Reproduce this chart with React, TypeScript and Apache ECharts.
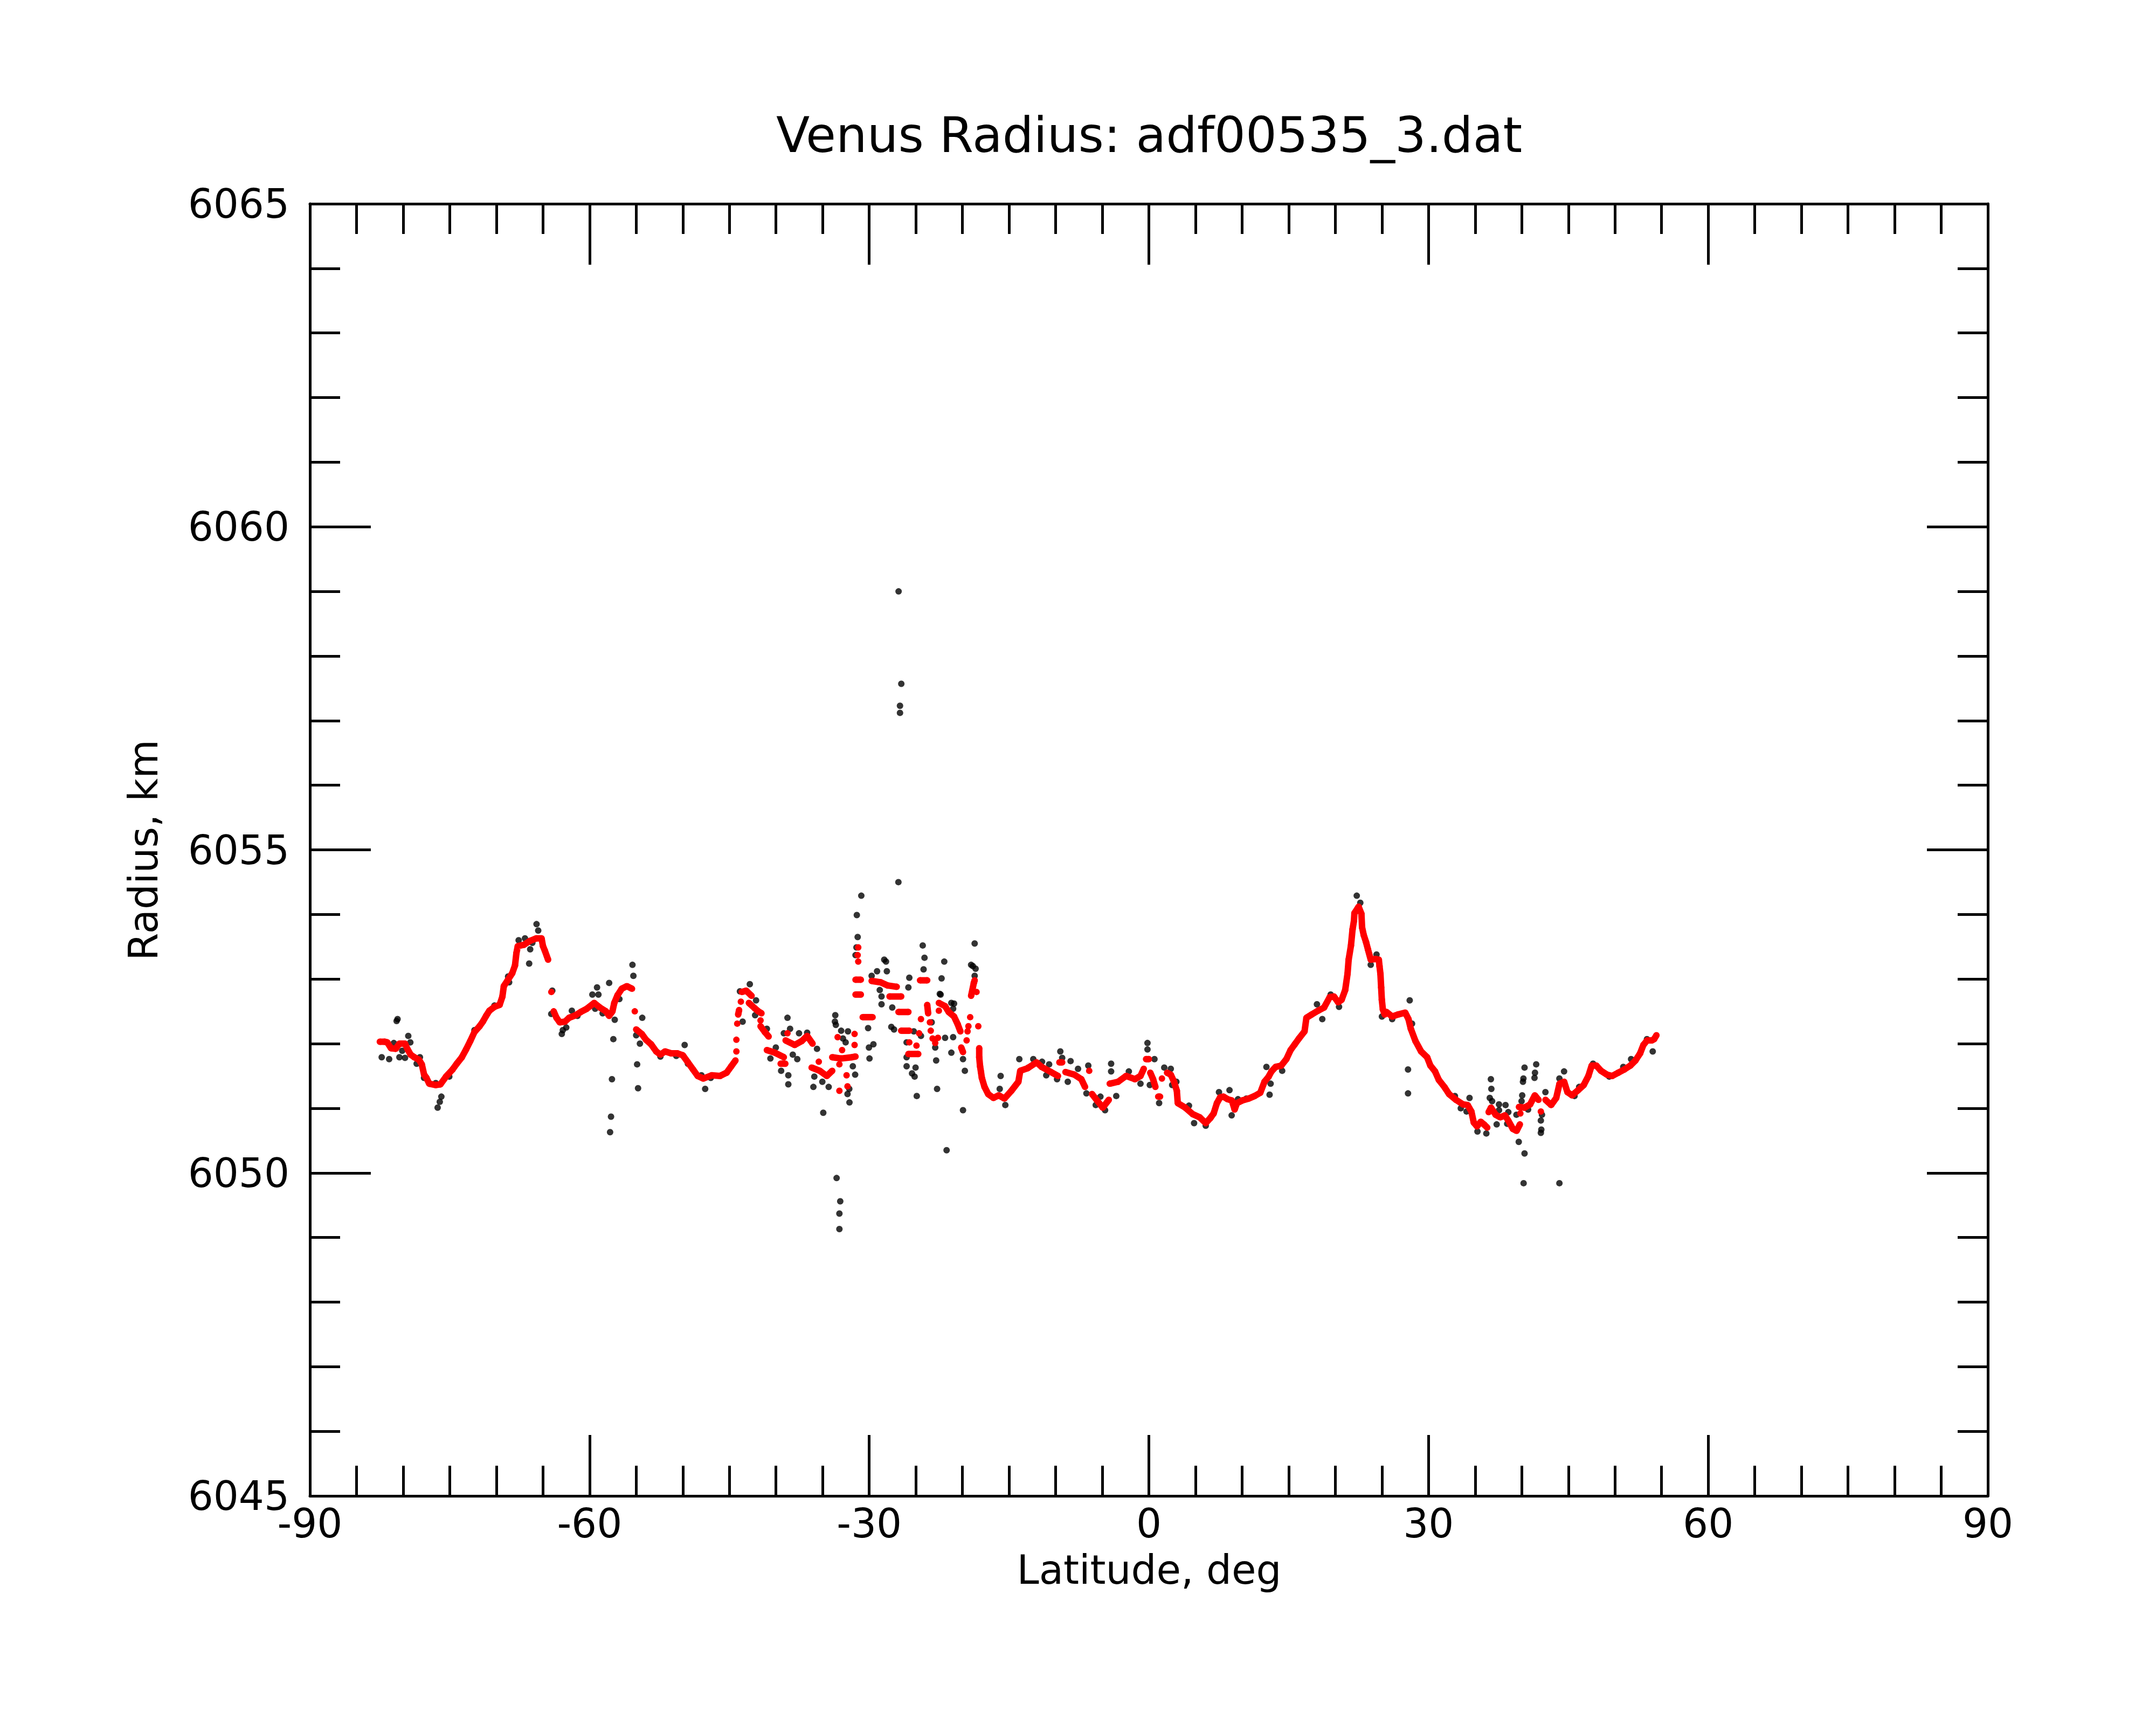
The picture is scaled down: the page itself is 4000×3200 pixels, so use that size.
import React, { useEffect, useRef } from "react";
import * as echarts from "echarts";

const chartTitle = "Venus Radius: adf00535_3.dat";
const xAxisTitle = "Latitude, deg";
const yAxisTitle = "Radius, km";
const latRange = [-90, 90];
const latStep = 30;
const radiusRange = [6045, 6065];
const radiusStep = 5;

// raw (black) measurements: [latitude, radius]
const rawPoints: [number, number][] = [
  [-80.6, 6052.38], [-80.7, 6052.35], [-79.45, 6052.12], [-79.23, 6052.02], [-82.3, 6051.79],
  [-81.5, 6051.76], [-80.4, 6051.79], [-79.8, 6051.78], [-80.1, 6051.89], [-81.0, 6052.01],
  [-78.55, 6051.69], [-78.2, 6051.79], [-77.76, 6051.47], [-76.5, 6051.39], [-75.9, 6051.18],
  [-76.07, 6051.1], [-76.3, 6051.01], [-75.05, 6051.49], [-72.35, 6052.21], [-70.2, 6052.59],
  [-68.63, 6052.95], [-68.74, 6053.04], [-67.61, 6053.6], [-66.93, 6053.63], [-66.37, 6053.46],
  [-66.48, 6053.24], [-66.14, 6053.56], [-65.69, 6053.85], [-65.51, 6053.75], [-64.0, 6052.82],
  [-64.11, 6052.46], [-62.98, 6052.15], [-62.87, 6052.21],
  [-62.5, 6052.25], [-61.9, 6052.51], [-61.3, 6052.43], [-59.7, 6052.76], [-59.2, 6052.87],
  [-59.05, 6052.76], [-59.4, 6052.54], [-58.6, 6052.47], [-57.9, 6052.94], [-57.3, 6052.37],
  [-57.45, 6052.07], [-57.6, 6051.45], [-57.7, 6050.87], [-57.8, 6050.63], [-56.8, 6052.69],
  [-55.4, 6053.22], [-55.3, 6053.05], [-54.35, 6052.4], [-55.0, 6052.13], [-54.6, 6052.0],
  [-54.9, 6051.68], [-54.8, 6051.31], [-52.4, 6051.8], [-50.7, 6051.81], [-49.8, 6051.98],
  [-49.45, 6051.69], [-48.0, 6051.51], [-47.6, 6051.3], [-47.0, 6051.47],
  [-42.81, 6052.92], [-43.87, 6052.81], [-43.58, 6052.34], [-42.24, 6052.44], [-42.14, 6052.67],
  [-40.98, 6052.23], [-40.6, 6051.77], [-40.02, 6051.94], [-39.45, 6051.58], [-39.16, 6052.16],
  [-38.77, 6052.4], [-38.49, 6052.23], [-38.68, 6051.51], [-38.68, 6051.37], [-38.2, 6051.83],
  [-37.72, 6051.76], [-37.53, 6052.16], [-36.66, 6052.17], [-35.6, 6051.92], [-35.89, 6051.49],
  [-35.99, 6051.33], [-35.03, 6051.41], [-34.35, 6051.33], [-34.93, 6050.93],
  [-33.64, 6052.44], [-33.68, 6052.34], [-33.58, 6052.29], [-33.01, 6052.2], [-32.28, 6052.19],
  [-32.82, 6052.08], [-32.53, 6052.02], [-31.76, 6051.65], [-31.51, 6051.52], [-32.14, 6051.3],
  [-32.33, 6051.22], [-32.12, 6051.09],
  [-33.5, 6049.92], [-33.11, 6049.56], [-33.2, 6049.37], [-33.2, 6049.13],
  [-30.85, 6054.29], [-31.33, 6053.99], [-31.24, 6053.65], [-31.37, 6053.49], [-31.47, 6053.37],
  [-30.12, 6052.24], [-30.03, 6051.94], [-29.55, 6051.99], [-29.97, 6051.77],
  [-28.39, 6053.3], [-28.2, 6053.27], [-28.11, 6053.12], [-29.16, 6053.12], [-29.74, 6053.05],
  [-28.87, 6052.83], [-28.68, 6052.73], [-28.68, 6052.61], [-27.53, 6052.56], [-27.63, 6052.26],
  [-27.34, 6052.22], [-26.85, 6059.0], [-26.56, 6057.57], [-26.7, 6057.23], [-26.7, 6057.12],
  [-26.87, 6054.5], [-25.7, 6053.02], [-25.8, 6052.87], [-25.22, 6052.19], [-25.99, 6052.02],
  [-25.99, 6051.79], [-25.99, 6051.65], [-25.03, 6051.63], [-25.41, 6051.54], [-25.13, 6051.49],
  [-24.9, 6051.19], [-24.45, 6052.12], [-24.26, 6053.52], [-24.07, 6053.33], [-24.17, 6053.15],
  [-23.3, 6052.33], [-22.92, 6051.94], [-22.82, 6051.74], [-22.72, 6051.3], [-22.34, 6052.76],
  [-22.43, 6052.77], [-22.24, 6053.01], [-21.95, 6053.27], [-21.86, 6052.09], [-21.7, 6050.35],
  [-21.19, 6052.63], [-21.0, 6052.54], [-21.0, 6052.1], [-20.9, 6052.62], [-21.19, 6051.86],
  [-19.94, 6051.76], [-19.74, 6051.58], [-19.94, 6050.97], [-19.07, 6053.22], [-18.69, 6053.55],
  [-18.88, 6053.2], [-18.59, 6053.16], [-18.69, 6053.05],
  [-15.9, 6051.5], [-16.0, 6051.3], [-15.4, 6051.05],
  [-13.9, 6051.76], [-12.93, 6051.63], [-12.4, 6051.76], [-11.46, 6051.72], [-11.01, 6051.51],
  [-9.5, 6051.88], [-9.3, 6051.78], [-8.4, 6051.73], [-10.7, 6051.68], [-9.85, 6051.45],
  [-8.7, 6051.41], [-7.6, 6051.61], [-6.5, 6051.66], [-6.7, 6051.23], [-5.7, 6051.05],
  [-5.2, 6051.18], [-4.7, 6050.97], [-4.05, 6051.69], [-4.05, 6051.57], [-3.5, 6051.19],
  [-2.15, 6051.57], [-0.9, 6051.38], [-0.15, 6052.01], [-0.15, 6051.91], [0.6, 6051.76],
  [0.1, 6051.36], [1.1, 6051.08], [1.65, 6051.63], [2.35, 6051.61], [2.5, 6051.36],
  [2.95, 6051.41], [4.3, 6051.04], [4.85, 6050.77], [6.1, 6050.73],
  [7.52, 6051.25], [8.65, 6051.28], [8.88, 6050.89], [9.56, 6051.14], [10.46, 6051.15],
  [12.61, 6051.64], [12.95, 6051.21], [13.06, 6051.38], [14.3, 6051.58], [18.03, 6052.61],
  [18.6, 6052.38], [19.5, 6052.76], [20.4, 6052.57],
  [22.3, 6054.29], [22.68, 6054.18], [24.42, 6053.38], [23.8, 6053.22], [25.0, 6052.42],
  [26.1, 6052.38], [27.98, 6052.67], [27.8, 6051.6], [27.8, 6051.23], [28.23, 6052.31],
  [32.83, 6051.19], [33.46, 6051.0], [34.4, 6051.16], [34.08, 6050.95], [35.25, 6050.64],
  [36.2, 6050.61], [36.69, 6051.45], [36.74, 6051.3], [36.57, 6051.16], [36.82, 6051.11],
  [37.56, 6051.06], [37.56, 6050.97], [38.26, 6051.05], [38.56, 6050.94], [39.43, 6050.9],
  [37.31, 6050.75], [38.44, 6050.76], [39.68, 6050.48], [40.3, 6050.3], [40.2, 6049.84],
  [40.3, 6051.63], [40.18, 6051.46], [40.13, 6051.41], [40.05, 6051.2], [39.98, 6051.11],
  [41.55, 6051.68], [41.42, 6051.55], [41.37, 6051.47], [40.68, 6050.98], [42.17, 6050.9],
  [42.05, 6050.81], [42.1, 6050.67], [42.05, 6050.62], [42.54, 6051.25], [44.54, 6051.57],
  [44.04, 6051.46], [44.04, 6049.84], [45.66, 6051.19], [46.16, 6051.33], [47.65, 6051.69],
  [49.39, 6051.49], [50.89, 6051.64], [51.73, 6051.76], [53.43, 6052.07], [54.05, 6051.88],
];

// smoothed (red) profile: [latitude, radius]; null marks a gap between runs of points
const smoothed: ([number, number] | null)[] = [
  [-82.5, 6052.03], [-82.0, 6052.03], [-81.7, 6052.02], [-81.3, 6051.93], [-80.8, 6051.92],
  [-80.4, 6052.0], [-79.8, 6052.0], [-79.55, 6051.92], [-79.2, 6051.83], [-78.8, 6051.79],
  [-78.3, 6051.75], [-78.0, 6051.68], [-77.75, 6051.52], [-77.5, 6051.47], [-77.2, 6051.38],
  [-76.5, 6051.36], [-76.0, 6051.37], [-75.4, 6051.49], [-74.7, 6051.6], [-74.25, 6051.69],
  [-73.7, 6051.79], [-73.25, 6051.91], [-72.8, 6052.04], [-72.35, 6052.18], [-71.8, 6052.27],
  [-71.45, 6052.34], [-71.1, 6052.43], [-70.75, 6052.51], [-70.2, 6052.57], [-69.65, 6052.6],
  [-69.35, 6052.73], [-69.2, 6052.89], [-68.75, 6052.99], [-68.3, 6053.09], [-68.0, 6053.21],
  [-67.85, 6053.4], [-67.7, 6053.51], [-67.05, 6053.53], [-66.4, 6053.59], [-65.7, 6053.63],
  [-65.15, 6053.63], [-65.0, 6053.51], [-64.8, 6053.44], [-64.45, 6053.3],
  null,
  [-64.1, 6052.8],
  null,
  [-63.85, 6052.5], [-63.55, 6052.4], [-63.2, 6052.33], [-62.65, 6052.34], [-62.2, 6052.4],
  [-61.5, 6052.44], [-60.95, 6052.49], [-60.3, 6052.54], [-59.5, 6052.63], [-58.9, 6052.56],
  [-58.25, 6052.5], [-57.9, 6052.43], [-57.55, 6052.5], [-57.35, 6052.63], [-57.0, 6052.75],
  [-56.55, 6052.85], [-56.0, 6052.89], [-55.45, 6052.85],
  null,
  [-55.15, 6052.5],
  null,
  [-55.0, 6052.22], [-54.4, 6052.15], [-53.95, 6052.06], [-53.4, 6051.99], [-52.85, 6051.88],
  [-52.4, 6051.83], [-51.9, 6051.88], [-51.25, 6051.85], [-50.6, 6051.85], [-50.0, 6051.82],
  [-49.5, 6051.72], [-48.9, 6051.6], [-48.4, 6051.5], [-47.8, 6051.46], [-46.9, 6051.51],
  [-46.0, 6051.5], [-45.3, 6051.55], [-44.8, 6051.65], [-44.35, 6051.74],
  null, [-44.25, 6051.88], null, [-44.25, 6052.06], null, [-44.16, 6052.31], null,
  [-44.06, 6052.45], [-43.96, 6052.52], null, [-43.77, 6052.65],
  null,
  [-43.67, 6052.8], [-43.2, 6052.82], [-42.62, 6052.74],
  null,
  [-42.91, 6052.63], [-42.3, 6052.55], [-41.9, 6052.5], [-41.56, 6052.47],
  null, [-41.66, 6052.36], null,
  [-41.66, 6052.27], [-41.2, 6052.18], [-40.79, 6052.11],
  null,
  [-40.98, 6051.9], [-40.12, 6051.86], [-39.16, 6051.79],
  null,
  [-39.5, 6051.69], [-39.0, 6051.69],
  null, [-38.77, 6052.16], null,
  [-38.97, 6052.05], [-38.0, 6051.98], [-37.24, 6052.04], [-36.66, 6052.12], [-36.08, 6052.0],
  null, [-35.41, 6051.72], null,
  [-36.18, 6051.63], [-35.31, 6051.58], [-34.55, 6051.5], [-33.97, 6051.58],
  null,
  [-33.97, 6051.79], [-33.01, 6051.77], [-31.85, 6051.79], [-31.47, 6051.8],
  null, [-33.39, 6052.1], null, [-32.91, 6051.9], null, [-33.2, 6051.68], null, [-32.43, 6051.51],
  null, [-32.33, 6051.34], null, [-33.2, 6051.27], null, [-31.57, 6052.15], null, [-31.57, 6051.98],
  null, [-31.18, 6053.49], null, [-31.24, 6053.37], null, [-31.18, 6053.27],
  null,
  [-31.47, 6052.99], [-30.9, 6052.99],
  null,
  [-31.47, 6052.76], [-30.9, 6052.76],
  null,
  [-30.7, 6052.41], [-29.64, 6052.41],
  null,
  [-29.74, 6052.97], [-28.78, 6052.95], [-28.01, 6052.9], [-27.05, 6052.88],
  null,
  [-27.82, 6052.73], [-26.57, 6052.73],
  null,
  [-26.86, 6052.49], [-25.8, 6052.49],
  null,
  [-26.57, 6052.2], [-25.7, 6052.2],
  null, [-25.7, 6052.02], null, [-24.93, 6051.97],
  null,
  [-25.8, 6051.84], [-24.74, 6051.84],
  null, [-24.65, 6052.16], null, [-24.45, 6052.38],
  null,
  [-24.55, 6052.98], [-23.78, 6052.98],
  null,
  [-23.78, 6052.6], [-23.68, 6052.47],
  null, [-23.49, 6052.33], null, [-23.4, 6052.2], null, [-23.2, 6052.08], null, [-22.92, 6052.01],
  null, [-22.63, 6052.09], null, [-22.53, 6052.51],
  null,
  [-22.53, 6052.63], [-21.86, 6052.58], [-21.47, 6052.49], [-20.9, 6052.42], [-20.51, 6052.3],
  [-20.22, 6052.19],
  null,
  [-20.13, 6051.94], [-19.94, 6051.87],
  null, [-19.55, 6052.05], null, [-19.45, 6052.19], null, [-19.36, 6052.27], null, [-19.17, 6052.41],
  null,
  [-19.07, 6052.74], [-18.78, 6052.94], [-18.69, 6052.98],
  null, [-18.49, 6052.8], null, [-18.3, 6052.27], null,
  [-18.2, 6051.93], [-18.2, 6051.79], [-18.11, 6051.65], [-18.01, 6051.56], [-17.92, 6051.47],
  [-17.63, 6051.33], [-17.24, 6051.22], [-16.67, 6051.16], [-16.1, 6051.2], [-15.5, 6051.15],
  [-14.75, 6051.27], [-14.0, 6051.41], [-13.8, 6051.58], [-13.0, 6051.62], [-12.05, 6051.71],
  [-11.5, 6051.64], [-10.5, 6051.56], [-9.75, 6051.5],
  null,
  [-9.6, 6051.71], [-9.3, 6051.71],
  null,
  [-8.95, 6051.56], [-8.0, 6051.52], [-7.25, 6051.45], [-6.85, 6051.33],
  null, [-6.4, 6051.58], null,
  [-6.1, 6051.22], [-5.5, 6051.11], [-4.95, 6051.01], [-4.3, 6051.13],
  null,
  [-4.2, 6051.38], [-3.3, 6051.41], [-2.45, 6051.5], [-1.5, 6051.45], [-0.9, 6051.5],
  [-0.55, 6051.61],
  null,
  [-0.3, 6051.76], [0.0, 6051.76],
  null,
  [0.15, 6051.55], [0.45, 6051.45], [0.7, 6051.33],
  null,
  [1.0, 6051.18], [1.2, 6051.18],
  null, [1.4, 6051.46], null,
  [1.95, 6051.55], [2.35, 6051.52], [2.7, 6051.41], [3.0, 6051.27], [3.1, 6051.08],
  [3.9, 6051.01], [4.7, 6050.91], [5.45, 6050.86], [6.1, 6050.77], [6.6, 6050.85],
  [6.95, 6050.92], [7.3, 6051.08], [7.65, 6051.17],
  [8.0, 6051.18], [8.45, 6051.14], [8.9, 6051.12], [9.2, 6050.98], [9.45, 6051.08],
  [10.0, 6051.12], [10.7, 6051.15], [11.35, 6051.19], [11.95, 6051.24], [12.4, 6051.41],
  [12.85, 6051.49], [13.15, 6051.57], [13.6, 6051.64], [14.2, 6051.66], [14.75, 6051.76],
  [15.2, 6051.9], [15.65, 6051.99], [16.1, 6052.08], [16.7, 6052.19], [16.9, 6052.4],
  [17.45, 6052.45], [18.15, 6052.51], [18.8, 6052.56], [19.4, 6052.72], [19.85, 6052.73],
  [20.3, 6052.64], [20.68, 6052.68], [21.06, 6052.83], [21.31, 6053.08], [21.43, 6053.3],
  [21.68, 6053.52], [21.85, 6053.77], [22.0, 6053.9], [22.05, 6054.02], [22.5, 6054.12],
  [22.8, 6054.01], [22.87, 6053.8], [23.05, 6053.68], [23.3, 6053.57], [23.5, 6053.46],
  [23.8, 6053.3], [24.3, 6053.31], [24.67, 6053.3], [24.74, 6053.2], [24.84, 6053.08],
  [24.92, 6052.87], [24.99, 6052.68], [25.1, 6052.53], [25.3, 6052.45], [25.5, 6052.49],
  [26.1, 6052.42], [26.7, 6052.45], [27.5, 6052.48], [27.85, 6052.38], [28.1, 6052.23],
  [28.6, 6052.04], [29.2, 6051.88], [29.85, 6051.79], [30.2, 6051.66], [30.7, 6051.57],
  [31.1, 6051.44], [31.7, 6051.33], [32.2, 6051.22], [32.95, 6051.13], [33.7, 6051.06],
  [34.2, 6051.05], [34.6, 6050.95], [34.85, 6050.78], [35.2, 6050.72], [35.6, 6050.79],
  [35.95, 6050.75], [36.3, 6050.7],
  null,
  [36.45, 6050.94], [36.7, 6051.01], [37.2, 6050.9], [37.7, 6050.86], [38.2, 6050.89],
  [38.55, 6050.81], [39.05, 6050.68], [39.45, 6050.65], [39.8, 6050.75],
  null, [39.85, 6050.92], null,
  [39.7, 6051.02], [40.3, 6051.01], [40.9, 6051.06], [41.4, 6051.2], [41.8, 6051.13],
  null, [42.05, 6050.95], null,
  [42.55, 6051.13], [43.15, 6051.05], [43.7, 6051.16], [44.05, 6051.38], [44.55, 6051.41],
  [44.9, 6051.25], [45.4, 6051.2], [46.05, 6051.28], [46.65, 6051.36], [47.15, 6051.5],
  [47.5, 6051.66], [48.0, 6051.66], [48.5, 6051.58], [49.15, 6051.52], [49.7, 6051.5],
  [50.35, 6051.55], [51.0, 6051.6], [51.65, 6051.66], [52.2, 6051.74], [52.7, 6051.85],
  [53.05, 6051.98], [53.45, 6052.05], [53.95, 6052.05], [54.2, 6052.07], [54.45, 6052.13],
];

const FONT = "DejaVu Sans";
const LABEL_SIZE = 74;

function splitRuns(list: ([number, number] | null)[]): [number, number][][] {
  const runs: [number, number][][] = [];
  let cur: [number, number][] = [];
  for (const p of list) {
    if (p === null) {
      if (cur.length) runs.push(cur);
      cur = [];
    } else cur.push(p);
  }
  if (cur.length) runs.push(cur);
  return runs;
}

function makeAxis(kind: "x" | "y", position: string, showLabel: boolean) {
  const isX = kind === "x";
  return {
    type: "value",
    position,
    min: isX ? latRange[0] : radiusRange[0],
    max: isX ? latRange[1] : radiusRange[1],
    interval: isX ? latStep : radiusStep,
    scale: true,
    axisLine: { show: true, onZero: false, lineStyle: { color: "#000", width: 5 } },
    axisTick: { show: true, inside: true, length: 113, lineStyle: { color: "#000", width: 5 } },
    minorTick: { show: true, splitNumber: isX ? 6 : 5, length: 56, lineStyle: { color: "#000", width: 5 } },
    splitLine: { show: false },
    minorSplitLine: { show: false },
    axisLabel: {
      show: showLabel,
      color: "#000",
      fontSize: LABEL_SIZE,
      fontFamily: FONT,
      margin: isX ? 14 : 38,
      formatter: (v: number) => String(v),
    },
  };
}

export default function App() {
  const ref = useRef<HTMLDivElement>(null);
  useEffect(() => {
    if (!ref.current) return;
    const chart = echarts.init(ref.current, null, { renderer: "svg" });
    const runs = splitRuns(smoothed);
    const redSeries = runs.map((run) => ({
      type: "line",
      xAxisIndex: 0,
      yAxisIndex: 0,
      data: run,
      showSymbol: true,
      showAllSymbol: true,
      symbol: "circle",
      symbolSize: 12,
      itemStyle: { color: "#ff0000" },
      lineStyle: { color: "#ff0000", width: 12 },
      silent: true,
      z: 3,
    }));
    chart.setOption({
      animation: false,
      backgroundColor: "#ffffff",
      textStyle: { fontFamily: FONT },
      grid: { left: 575, right: 312, top: 378, bottom: 425, containLabel: false },
      xAxis: [makeAxis("x", "bottom", true), makeAxis("x", "top", false)],
      yAxis: [makeAxis("y", "left", true), makeAxis("y", "right", false)],
      graphic: [
        {
          type: "text",
          x: 2132,
          y: 250,
          style: { text: chartTitle, fontSize: 91, fontFamily: FONT, fill: "#000", textAlign: "center", textVerticalAlign: "middle" },
        },
        {
          type: "text",
          x: 2132,
          y: 2912,
          style: { text: xAxisTitle, fontSize: LABEL_SIZE, fontFamily: FONT, fill: "#000", textAlign: "center", textVerticalAlign: "middle" },
        },
        {
          type: "text",
          x: 266,
          y: 1577,
          rotation: Math.PI / 2,
          style: { text: yAxisTitle, fontSize: LABEL_SIZE, fontFamily: FONT, fill: "#000", textAlign: "center", textVerticalAlign: "middle" },
        },
      ],
      series: [
        {
          type: "scatter",
          xAxisIndex: 0,
          yAxisIndex: 0,
          data: rawPoints,
          symbol: "circle",
          symbolSize: 12,
          itemStyle: { color: "#000000" },
          silent: true,
          z: 2,
        },
        ...redSeries,
      ],
    });
    return () => chart.dispose();
  }, []);
  return (
    <div
      ref={ref}
      style={{ position: "absolute", left: 0, top: 0, width: 4000, height: 3200, background: "#fff" }}
    />
  );
}
